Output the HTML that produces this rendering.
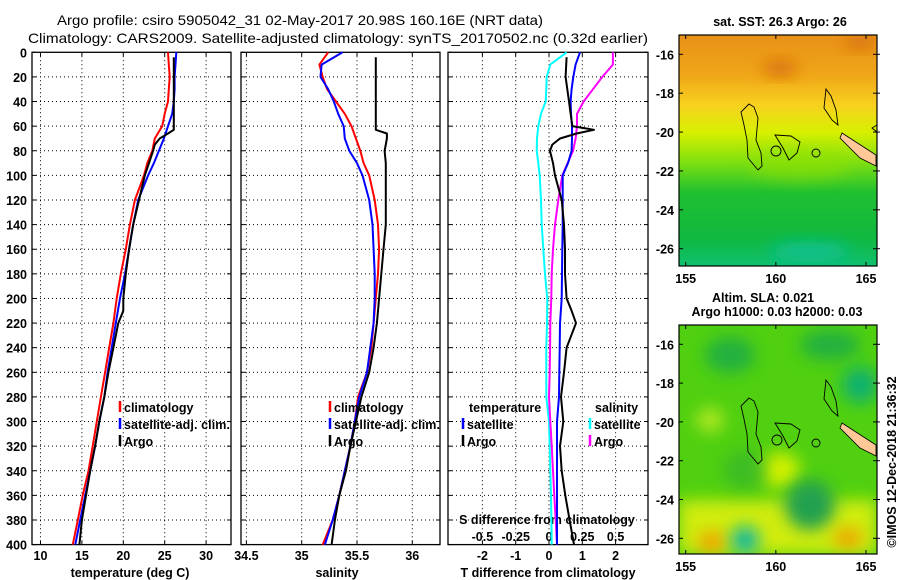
<!DOCTYPE html>
<html><head><meta charset="utf-8"><style>
html,body{margin:0;padding:0;background:#fff;}
svg{display:block;font-family:"Liberation Sans",sans-serif;}
.t{font-size:12.5px;font-weight:bold;fill:#000;}
.h{font-size:14px;fill:#000;}
</style></head><body>
<svg id="fig" width="900" height="580" viewBox="0 0 900 580" xmlns="http://www.w3.org/2000/svg">
<defs>
<linearGradient id="sstg" x1="0" y1="0" x2="0" y2="1">
<stop offset="0" stop-color="#e89018"/><stop offset="0.18" stop-color="#f0a818"/><stop offset="0.3" stop-color="#f8d020"/><stop offset="0.42" stop-color="#d8f000"/><stop offset="0.55" stop-color="#80e010"/><stop offset="0.68" stop-color="#20c030"/><stop offset="0.88" stop-color="#10b840"/><stop offset="1" stop-color="#10c070"/>
</linearGradient>
<filter id="bl" x="-50%" y="-50%" width="200%" height="200%"><feGaussianBlur stdDeviation="8"/></filter>
<clipPath id="m1c"><rect x="679" y="35" width="198" height="231"/></clipPath>
<clipPath id="m2c"><rect x="679" y="325" width="198" height="229"/></clipPath>
</defs>
<text class="h" x="57" y="25" textLength="486" lengthAdjust="spacingAndGlyphs">Argo profile: csiro 5905042_31 02-May-2017 20.98S 160.16E (NRT data)</text>
<text class="h" x="28" y="43" textLength="620" lengthAdjust="spacingAndGlyphs">Climatology: CARS2009. Satellite-adjusted climatology: synTS_20170502.nc (0.32d earlier)</text>
<g id="panels"></g>
<g>
<g clip-path="url(#m1c)">
<rect x="679" y="35" width="198" height="231" fill="url(#sstg)"/>
<ellipse cx="780" cy="68" rx="18" ry="8" fill="#d87010" filter="url(#bl)"/>
<ellipse cx="860" cy="42" rx="16" ry="7" fill="#d87010" filter="url(#bl)"/>
<ellipse cx="800" cy="165" rx="50" ry="14" fill="#90e000" filter="url(#bl)" opacity="0.6"/>
<ellipse cx="810" cy="252" rx="40" ry="10" fill="#10c090" filter="url(#bl)"/>
<path d="M842,133 L876,155 L876,166 L860,158 L840,138 Z" fill="#ffc896" stroke="#000" stroke-width="0.8"/>
<path d="M749,104 L754,107 L758,118 L756,140 L761,153 L762,166 L758,170 L748,158 L747,140 L744,125 L741,112 Z M775,135 L791,136 L800,142 L797,153 L789,160 L783,148 Z M826,89 L831,96 L836,110 L838,125 L832,120 L824,108 Z M877,125 L872,128 L877,132" fill="none" stroke="#000" stroke-width="0.9"/>
<circle cx="776" cy="151" r="5" fill="none" stroke="#000" stroke-width="0.9"/>
<circle cx="816" cy="153" r="4" fill="none" stroke="#000" stroke-width="0.9"/>
</g>
<rect x="679" y="35" width="198" height="231" fill="none" stroke="#000" stroke-width="1.2"/>
</g>
<text class="t" x="780" y="26" text-anchor="middle">sat. SST: 26.3 Argo: 26</text>
<g>
<g clip-path="url(#m2c)">
<rect x="679" y="325" width="198" height="229" fill="#50d010"/>
<ellipse cx="730" cy="355" rx="25" ry="18" fill="#20b040" filter="url(#bl)"/>
<ellipse cx="830" cy="345" rx="30" ry="15" fill="#20b040" filter="url(#bl)"/>
<ellipse cx="860" cy="385" rx="18" ry="18" fill="#10b070" filter="url(#bl)"/>
<ellipse cx="710" cy="420" rx="14" ry="12" fill="#b0e820" filter="url(#bl)"/>
<ellipse cx="780" cy="470" rx="20" ry="18" fill="#d0f000" filter="url(#bl)"/>
<rect x="679" y="500" width="198" height="54" fill="#d0ec10" filter="url(#bl)"/>
<ellipse cx="810" cy="505" rx="25" ry="25" fill="#20a050" filter="url(#bl)"/>
<ellipse cx="712" cy="542" rx="14" ry="10" fill="#f0a000" filter="url(#bl)"/>
<ellipse cx="848" cy="538" rx="14" ry="10" fill="#f0a000" filter="url(#bl)"/>
<ellipse cx="745" cy="540" rx="14" ry="14" fill="#10b8a0" filter="url(#bl)"/>
<ellipse cx="745" cy="470" rx="22" ry="20" fill="#30b030" filter="url(#bl)" opacity="0.6"/>
<path d="M842,423 L876,445 L876,456 L860,448 L840,428 Z" fill="#ffc896" stroke="#000" stroke-width="0.8"/>
<path d="M749,398 L754,401 L758,412 L756,434 L761,447 L762,460 L758,464 L748,452 L747,434 L744,419 L741,406 Z M775,423 L791,424 L800,430 L797,441 L789,448 L783,436 Z M826,380 L831,387 L836,401 L838,416 L832,411 L824,399 Z" fill="none" stroke="#000" stroke-width="0.9"/>
<circle cx="777" cy="440" r="5" fill="none" stroke="#000" stroke-width="0.9"/>
<circle cx="816" cy="443" r="4" fill="none" stroke="#000" stroke-width="0.9"/>
</g>
<rect x="679" y="325" width="198" height="229" fill="none" stroke="#000" stroke-width="1.2"/>
</g>
<text class="t" x="763" y="302" text-anchor="middle">Altim. SLA: 0.021</text>
<text class="t" x="777" y="316" text-anchor="middle">Argo h1000: 0.03 h2000: 0.03</text>
<text class="t" x="896" y="462" text-anchor="middle" transform="rotate(-90 896 462)" font-weight="normal">©IMOS 12-Dec-2018 21:36:32</text>
<g id="maplabels"></g>
</svg>
<script>
// ---- data ----
const depthsT = [0,10,20,30,40,50,60,70,80,90,100,120,140,160,180,200,220,240,260,280,300,320,340,360,380,400];
const tempClim = [25.4,25.5,25.6,25.5,25.4,25.0,24.7,23.8,23.5,22.9,22.5,21.4,20.8,20.3,19.7,19.2,18.8,18.3,17.8,17.3,16.8,16.3,15.8,15.1,14.5,13.9];
const tempSat  = [26.4,26.3,26.2,26.2,26.1,25.9,25.4,24.9,24.3,23.7,23.0,21.8,21.2,20.7,20.2,19.6,19.1,18.6,18.1,17.7,17.1,16.6,16.0,15.4,14.8,14.2];
const salClim = [35.24,35.16,35.19,35.23,35.31,35.39,35.45,35.49,35.53,35.56,35.61,35.66,35.69,35.70,35.69,35.67,35.65,35.63,35.59,35.51,35.48,35.44,35.39,35.34,35.28,35.19];
const salSat  = [35.37,35.18,35.17,35.24,35.29,35.33,35.38,35.39,35.43,35.50,35.55,35.61,35.64,35.65,35.66,35.66,35.65,35.62,35.59,35.52,35.48,35.44,35.39,35.34,35.28,35.21];
const depthsArgo = [4,20,40,60,63,66,70,75,80,90,100,120,140,160,180,200,210,220,240,260,280,300,320,340,360,380,400];
const tempArgo = [26.1,26.1,26.1,26.1,26.1,25.4,24.4,23.8,23.6,23.1,22.6,21.9,21.2,20.7,20.3,20.0,20.0,19.4,18.8,18.2,17.7,17.1,16.6,16.0,15.5,15.0,14.7];
const salArgo  = [35.67,35.67,35.67,35.67,35.67,35.77,35.77,35.76,35.75,35.76,35.76,35.76,35.76,35.74,35.72,35.70,35.69,35.68,35.65,35.61,35.54,35.49,35.44,35.40,35.34,35.30,35.27];
const dTsat = [0.93,0.80,0.73,0.68,0.65,0.66,0.69,0.69,0.68,0.57,0.41,0.41,0.41,0.40,0.39,0.38,0.33,0.32,0.31,0.30,0.24,0.24,0.24,0.24,0.24,0.24];
const dSsat = [0.133,0.01,-0.017,-0.02,-0.025,-0.06,-0.08,-0.09,-0.092,-0.08,-0.07,-0.06,-0.055,-0.043,-0.03,-0.013,-0.015,-0.02,-0.02,-0.02,0.0,0.005,0.01,0.015,0.018,0.02];
const dSargo = [0.48,0.48,0.40,0.33,0.26,0.21,0.21,0.20,0.18,0.14,0.10,0.07,0.045,0.03,0.02,0.017,0.01,0.008,0.005,0.0,0.01,0.02,0.03,0.04,0.05,0.06];
const dTargo = [0.53,0.50,0.60,0.70,1.35,0.83,0.33,0.10,0.03,0.12,0.18,0.38,0.45,0.48,0.48,0.53,0.68,0.81,0.53,0.45,0.36,0.43,0.33,0.38,0.49,0.62,0.75];
const depthTicks = [0,20,40,60,80,100,120,140,160,180,200,220,240,260,280,300,320,340,360,380,400];
const tempTicks = [10,15,20,25,30];
const salTicks = [34.5,35,35.5,36];
const salTickLabels = ["34.5","35","35.5","36"];
const dTTicks = [-2,-1,0,1,2];
const dSTicks = [-0.5,-0.25,0,0.25,0.5];
const dSTickLabels = ["-0.5","-0.25","0","0.25","0.5"];
const lonTicks = [155,160,165];
const latTicks = [-16,-18,-20,-22,-24,-26];

// ---- axes ----
const NS = 'http://www.w3.org/2000/svg';
const Y0 = 52.3, Y1 = 544.6;
const yD = d => Y0 + d * (Y1 - Y0) / 400;
const xT = v => 40.5 + (v - 10) * 8.28;
const xS = v => 246.4 + (v - 34.5) * 110.6;
const xDT = v => 549 + v * 33.3;
const xDS = v => 549 + v * 133.2;
const P = [{x0:32,x1:231},{x0:241,x1:440},{x0:448,x1:648}];
const g = document.getElementById('panels');
function el(tag, attrs, parent){const e=document.createElementNS(NS,tag);for(const k in attrs)e.setAttribute(k,attrs[k]);(parent||g).appendChild(e);return e;}
function txt(x,y,s,anchor,parent){const t=el('text',{x:x,y:y,'class':'t','text-anchor':anchor||'middle'},parent);t.textContent=s;return t;}

P.forEach((p,i)=>{
  const pg = el('g',{});
  
  
  depthTicks.forEach(d=>{
    if(d>0&&d<400) el('line',{x1:p.x0,x2:p.x1,y1:yD(d),y2:yD(d),stroke:'#000','stroke-width':1,'stroke-dasharray':'1 3'},pg);
    el('line',{x1:p.x0,x2:p.x0+4,y1:yD(d),y2:yD(d),stroke:'#000'},pg);
    el('line',{x1:p.x1-4,x2:p.x1,y1:yD(d),y2:yD(d),stroke:'#000'},pg);
  });
  const vt = i===0?tempTicks.map(xT):i===1?salTicks.map(xS):dTTicks.map(xDT);
  vt.forEach(x=>{
    el('line',{x1:x,x2:x,y1:Y0,y2:Y1,stroke:'#000','stroke-width':1,'stroke-dasharray':'1 3'},pg);
    el('line',{x1:x,x2:x,y1:Y1-4,y2:Y1,stroke:'#000'},pg);
    el('line',{x1:x,x2:x,y1:Y0,y2:Y0+4,stroke:'#000'},pg);
  });
  el('rect',{x:p.x0,y:Y0,width:p.x1-p.x0,height:Y1-Y0,fill:'none',stroke:'#000','stroke-width':1.3},pg);
});
const dl = el('g',{});


depthTicks.forEach(d=>txt(27,yD(d)+5,String(d),'end',dl));
const xl = el('g',{});


tempTicks.forEach(v=>txt(xT(v),560,String(v),'middle',xl));
salTicks.forEach((v,i)=>txt(xS(v),560,salTickLabels[i],'middle',xl));
dTTicks.forEach(v=>txt(xDT(v),560,String(v),'middle',xl));
dSTicks.forEach((v,i)=>txt(xDS(v),541,dSTickLabels[i],'middle',xl));
let t;
t=txt(130,577,'temperature (deg C)');
t=txt(337,577,'salinity');
t=txt(548,577,'T difference from climatology');
t=txt(547,524,'S difference from climatology');

function line(depths, vals, xf, color, name, w){
  const pts = depths.map((d,i)=>xf(vals[i]).toFixed(1)+','+yD(d).toFixed(1)).join(' ');
  const pl = el('polyline',{points:pts,fill:'none',stroke:color,'stroke-width':w||2,'stroke-linejoin':'round'});
  
  
}
line(depthsT,tempClim,xT,'#f00','temp-climatology-line');
line(depthsT,tempSat,xT,'#00f','temp-satellite-line');
line(depthsArgo,tempArgo,xT,'#000','temp-argo-line');
line(depthsT,salClim,xS,'#f00','sal-climatology-line');
line(depthsT,salSat,xS,'#00f','sal-satellite-line');
line(depthsArgo,salArgo,xS,'#000','sal-argo-line');
line(depthsT,dSsat,xDS,'#0ff','sdiff-satellite-line');
line(depthsT,dSargo,xDS,'#f0f','sdiff-argo-line');
line(depthsT,dTsat,xDT,'#00f','tdiff-satellite-line');
line(depthsArgo,dTargo,xDT,'#000','tdiff-argo-line');

function leg(x,y,color,label,name){
  const lg = el('g',{});
  
  
  el('line',{x1:x,x2:x,y1:y-11,y2:y,stroke:color,'stroke-width':2.5},lg);
  const tt = txt(x+4,y,label,'start',lg);
  return tt;
}
leg(120,412,'#f00','climatology','legend-climatology');
leg(120,429,'#00f','satellite-adj. clim.','legend-satellite-adj').setAttribute('textLength','106');
leg(120,446,'#000','Argo','legend-argo');
leg(330,412,'#f00','climatology','legend-sal-climatology');
leg(330,429,'#00f','satellite-adj. clim.','legend-sal-satellite-adj').setAttribute('textLength','106');
leg(330,446,'#000','Argo','legend-sal-argo');
t=txt(469,412,'temperature','start');
leg(463,429,'#00f','satellite','legend-t-satellite');
leg(463,446,'#000','Argo','legend-t-argo');
t=txt(595,412,'salinity','start');
leg(590,429,'#0ff','satellite','legend-s-satellite');
leg(590,446,'#f0f','Argo','legend-s-argo');

// map tick labels
const ml = document.getElementById('maplabels');
const lonX = v => 685.7 + (v-155)*18.03;
[[35,266,54.3,248.7],[325,554,344.3,538.3]].forEach(([top,bot,ya,yb],k)=>{
  const mg = el('g',{},ml);
  
  
  lonTicks.forEach(v=>{
    el('line',{x1:lonX(v),x2:lonX(v),y1:bot-4,y2:bot,stroke:'#000'},mg);
    el('line',{x1:lonX(v),x2:lonX(v),y1:top,y2:top+4,stroke:'#000'},mg);
    txt(lonX(v),bot+17,String(v),'middle',mg);
  });
  latTicks.forEach(v=>{
    const y = ya + (v+16)/(-10)*(yb-ya);
    el('line',{x1:679,x2:683,y1:y,y2:y,stroke:'#000'},mg);
    el('line',{x1:873,x2:880,y1:y,y2:y,stroke:'#000'},mg);
    txt(674,y+5,String(v),'end',mg);
  });
});
</script>
</body></html>
